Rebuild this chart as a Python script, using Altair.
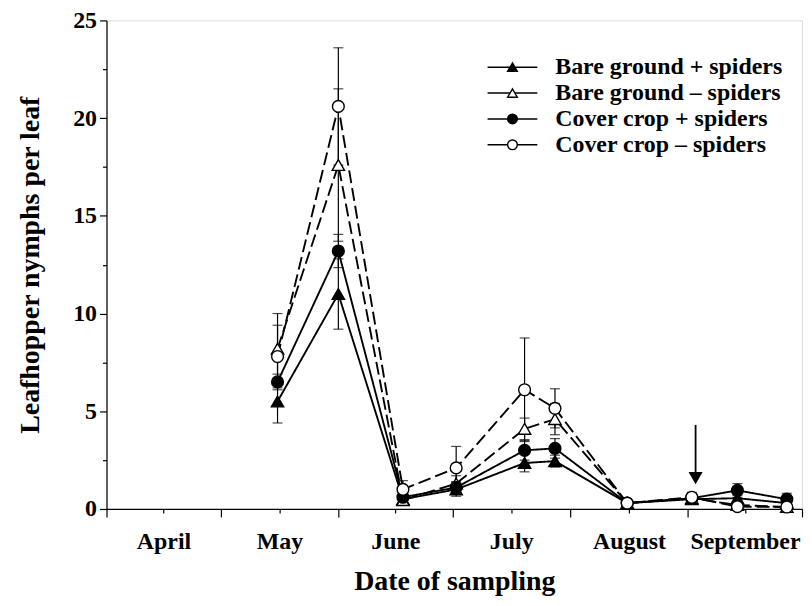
import altair as alt
import pandas as pd

# ---------------- data ----------------
series = ["Bare ground + spiders", "Bare ground – spiders",
          "Cover crop + spiders", "Cover crop – spiders"]
sample_dates = ["2001-05-16", "2001-06-01", "2001-06-18", "2001-07-02", "2001-07-20",
                "2001-07-28", "2001-08-16", "2001-09-02", "2001-09-14", "2001-09-27"]

bg_plus = [5.5, 11.0, 0.5, 1.0, 2.35, 2.45, 0.3, 0.5, 0.55, 0.3]
bg_plus_se = [1.1, 1.8, 0.2, 0.35, 0.45, 0.3, 0.1, 0.15, 0.15, 0.1]
bg_minus = [8.2, 17.6, 0.45, 1.3, 4.1, 4.6, 0.3, 0.55, 0.2, 0.1]
bg_minus_se = [1.8, 3.9, 0.15, 0.4, 0.55, 0.8, 0.1, 0.2, 0.1, 0.05]
cc_plus = [6.5, 13.2, 0.6, 1.1, 3.0, 3.1, 0.3, 0.55, 0.95, 0.5]
cc_plus_se = [0.4, 0.85, 0.2, 0.3, 0.5, 0.5, 0.1, 0.2, 0.35, 0.3]
cc_minus = [7.8, 20.6, 1.0, 2.1, 6.1, 5.15, 0.3, 0.6, 0.12, 0.1]
cc_minus_se = [1.6, 3.0, 0.45, 1.1, 2.65, 1.0, 0.1, 0.25, 0.05, 0.05]

season_start = "2001-04-01"
month_starts = ["2001-04-01", "2001-05-01", "2001-06-01", "2001-07-01",
                "2001-08-01", "2001-09-01", "2001-10-01"]
month_names = ["April", "May", "June", "July", "August", "September"]

arrow_date = "2001-09-03"
arrow_top = 4.3
arrow_head = 1.58

# ---------------- build tables ----------------
start = pd.Timestamp(season_start)
days = [(pd.Timestamp(d) - start).days for d in sample_dates]
major_ticks = [(pd.Timestamp(d) - start).days for d in month_starts]
mid_ticks = [(major_ticks[i] + major_ticks[i + 1]) / 2 for i in range(len(month_names))]

vals = [bg_plus, bg_minus, cc_plus, cc_minus]
ses = [bg_plus_se, bg_minus_se, cc_plus_se, cc_minus_se]
markers = ["triangle-up", "triangle-up", "circle", "circle"]
fills = ["black", "white", "black", "white"]
rows = []
for s, v, e in zip(series, vals, ses):
    for d, y, se in zip(days, v, e):
        rows.append({"Series": s, "day": d, "value": y, "low": max(y - se, 0),
                     "high": y + se})
df = pd.DataFrame(rows)
legend_df = pd.DataFrame({"Series": series})

arrow_df = pd.DataFrame({"day": [(pd.Timestamp(arrow_date) - start).days],
                         "top": [arrow_top], "head": [arrow_head]})

FONT = "Liberation Serif"
xscale = alt.Scale(domain=[0, major_ticks[-1]], nice=False, zero=False)
yscale = alt.Scale(domain=[0, 25], nice=False)

axis_common = dict(grid=False, domainColor="black", tickColor="black",
                   labelColor="black", titleColor="black",
                   labelFont=FONT, labelFontWeight="bold", labelFontSize=24,
                   titleFont=FONT, titleFontWeight="bold", titleFontSize=28,
                   domainWidth=1.2, tickWidth=1.2)

x_major = alt.Axis(values=major_ticks, tickSize=8, labels=False, title=None,
                   orient="bottom", **axis_common)
label_expr = "[" + ",".join(f"'{m}'" for m in month_names) + "][indexof([" + \
    ",".join(str(t) for t in mid_ticks) + "], datum.value)]"
x_minor = alt.Axis(values=mid_ticks, tickSize=4, labelExpr=label_expr, domain=False,
                   labelPadding=17, title="Date of sampling", titlePadding=14,
                   orient="bottom", **axis_common)
y_major = alt.Axis(values=[0, 5, 10, 15, 20, 25], tickSize=7, labelPadding=3,
                   title="Leafhopper nymphs per leaf", titlePadding=28,
                   orient="left", **axis_common)
y_minor = alt.Axis(values=[2.5, 7.5, 12.5, 17.5, 22.5], tickSize=4, labels=False,
                   domain=False, title=None, orient="left", **axis_common)

dash_scale = alt.Scale(domain=series, range=[[1, 0], [13, 5], [1, 0], [13, 5]])
shape_scale = alt.Scale(domain=series, range=markers)
fill_scale = alt.Scale(domain=series, range=fills)

lines = alt.Chart(df).mark_line(color="black", strokeWidth=1.9).encode(
    x=alt.X("day:Q", scale=xscale, axis=x_major),
    y=alt.Y("value:Q", scale=yscale, axis=y_major),
    detail="Series:N",
    strokeDash=alt.StrokeDash("Series:N", scale=dash_scale, legend=None),
    order="day:Q",
)

errs = alt.Chart(df).mark_errorbar(ticks={"size": 10}, color="black", thickness=1.2).encode(
    x=alt.X("day:Q", scale=xscale, axis=None),
    y=alt.Y("low:Q", scale=yscale, axis=None, title=None),
    y2="high:Q",
)

# carries the month labels and the minor y ticks
axis_carrier = alt.Chart(df).mark_point(opacity=0).encode(
    x=alt.X("day:Q", scale=xscale, axis=x_minor),
    y=alt.Y("value:Q", scale=yscale, axis=y_minor),
)

point_layers = []
for s, m, f in zip(series, markers, fills):
    point_layers.append(
        alt.Chart(df).transform_filter(alt.datum.Series == s).mark_point(
            shape=m, filled=True, fill=f, stroke="black", strokeWidth=1.4, opacity=1,
            size=155 if m == "triangle-up" else 140,
        ).encode(
            x=alt.X("day:Q", scale=xscale, axis=None),
            y=alt.Y("value:Q", scale=yscale, axis=None),
        )
    )

arrow_rule = alt.Chart(arrow_df).mark_rule(color="black", strokeWidth=1.8).encode(
    x=alt.X("day:Q", scale=xscale, axis=None),
    y=alt.Y("top:Q", scale=yscale, axis=None),
    y2="head:Q",
)
arrow_head_mark = alt.Chart(arrow_df).mark_point(shape="triangle-down", filled=True,
                                                 color="black", size=200, opacity=1).encode(
    x=alt.X("day:Q", scale=xscale, axis=None),
    y=alt.Y("head:Q", scale=yscale, axis=None),
)

main = alt.layer(lines, axis_carrier, errs, *point_layers,
                 arrow_rule, arrow_head_mark).resolve_axis(x="independent", y="independent")

# ---------------- legend (drawn as marks, rows from an ordinal scale) ----------------
leg_y = alt.Y("Series:N", scale=alt.Scale(domain=series, type="point", range=[47, 125],
                                          padding=0), axis=None)
leg_line = alt.Chart(legend_df).mark_rule(color="black", strokeWidth=1.6).encode(
    x=alt.value(383), x2=alt.value(433), y=leg_y)
leg_pts = alt.Chart(legend_df).mark_point(filled=True, stroke="black", strokeWidth=1.4,
                                          size=95, opacity=1).encode(
    x=alt.value(408), y=leg_y,
    shape=alt.Shape("Series:N", scale=shape_scale, legend=None),
    fill=alt.Fill("Series:N", scale=fill_scale, legend=None),
)
leg_text = alt.Chart(legend_df).mark_text(align="left", baseline="middle", font=FONT,
                                          fontWeight="bold", fontSize=24,
                                          color="black").encode(
    x=alt.value(451), y=leg_y, text="Series:N")
legend = alt.layer(leg_line, leg_pts, leg_text)

chart = alt.layer(main, legend).resolve_scale(y="independent").properties(
    width=699, height=491,
    autosize=alt.AutoSizeParams(type="none"),
    padding={"left": 99, "top": 11, "right": 2, "bottom": 88},
).configure_view(stroke="black", strokeWidth=1.2).configure(background="white")

chart.save("out.html", embed_options={"renderer": "svg", "actions": False})
